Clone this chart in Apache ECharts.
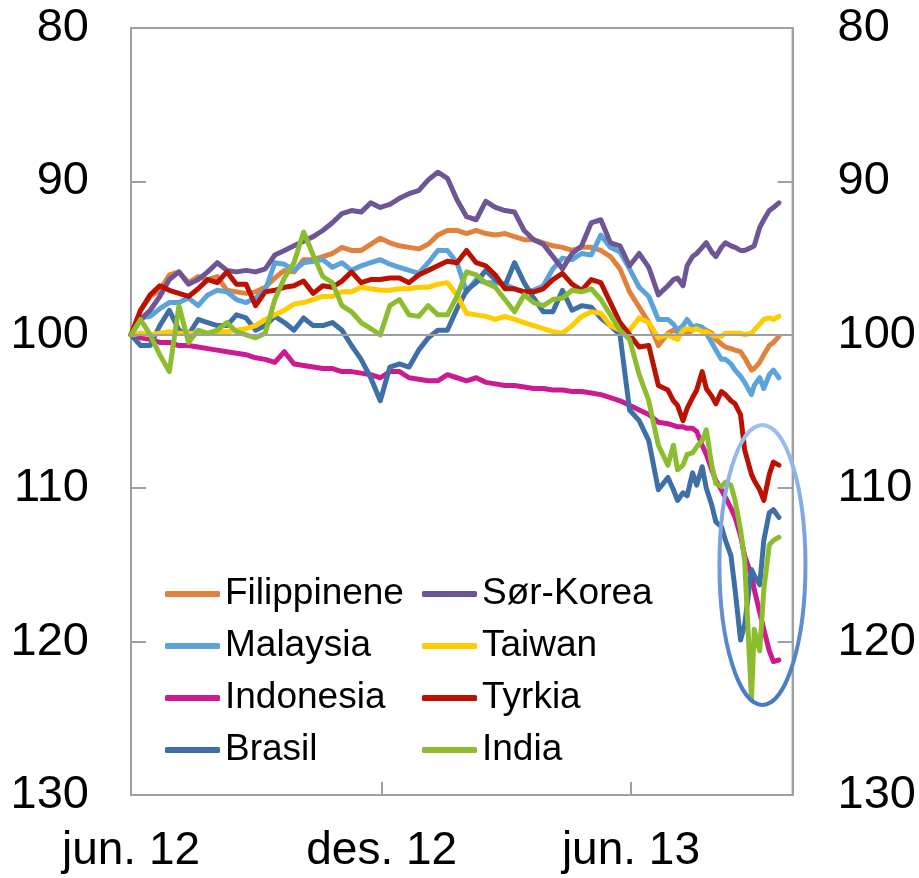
<!DOCTYPE html>
<html><head><meta charset="utf-8">
<script src="https://cdn.jsdelivr.net/npm/echarts@6/dist/echarts.min.js"></script>
<style>html,body{margin:0;padding:0;background:#fff}#c{width:919px;height:878px}</style>
</head><body><div id="c"></div>
<script>
const dates = [
 '2012-06-01','2012-06-08','2012-06-15','2012-06-22','2012-06-29','2012-07-06','2012-07-13','2012-07-20','2012-07-27','2012-08-03',
 '2012-08-10','2012-08-17','2012-08-24','2012-08-31','2012-09-07','2012-09-14','2012-09-21','2012-09-28','2012-10-05','2012-10-12',
 '2012-10-19','2012-10-26','2012-11-02','2012-11-09','2012-11-16','2012-11-23','2012-11-30','2012-12-07','2012-12-14','2012-12-21',
 '2012-12-28','2013-01-04','2013-01-11','2013-01-18','2013-01-25','2013-02-01','2013-02-08','2013-02-15','2013-02-22','2013-03-01',
 '2013-03-08','2013-03-15','2013-03-22','2013-03-29','2013-04-05','2013-04-12','2013-04-19','2013-04-26','2013-05-03','2013-05-10',
 '2013-05-17','2013-05-24','2013-05-31','2013-06-07','2013-06-14','2013-06-21','2013-06-28',
 '2013-07-02','2013-07-05','2013-07-09','2013-07-12','2013-07-16','2013-07-19','2013-07-23','2013-07-26','2013-07-30','2013-08-02',
 '2013-08-06','2013-08-09','2013-08-13','2013-08-16','2013-08-20','2013-08-23','2013-08-28','2013-08-30','2013-09-03','2013-09-06',
 '2013-09-10','2013-09-13','2013-09-17'
];
const filippinene = [100.0,98.4,97.5,97.1,96.1,95.9,96.6,96.2,96.4,96.2, 97.1,97.2,97.3,97.2,96.9,96.3,95.8,95.9,95.1,95.1,
 94.9,94.7,94.3,94.5,94.5,94.1,93.7,94.0,94.2,94.3, 94.4,94.1,93.5,93.2,93.2,93.4,93.2,93.4,93.5,93.4,
 93.6,93.8,93.8,94.0,94.2,94.3,94.5,94.3,94.3,94.5, 94.9,95.7,97.2,98.2,99.2,100.7,99.9,
 99.7,99.8,99.9,99.9,99.7,99.6,99.6,99.7,99.9,100.3, 100.6,100.8,100.9,101.0,101.1,101.5,102.3,102.2,101.8,101.3, 100.7,100.5,100.1];
const sorKorea = [100.0,99.0,98.4,97.5,96.4,95.9,96.7,96.4,95.9,95.3, 95.8,95.9,95.8,95.9,95.7,94.8,94.5,94.2,93.9,93.6,
 93.2,92.7,92.1,91.9,92.0,91.4,91.7,91.5,91.1,90.8, 90.6,89.9,89.4,89.8,91.2,92.3,92.5,91.3,91.7,91.9,
 92.0,93.2,93.8,94.1,94.9,95.7,94.7,94.2,92.7,92.5, 94.0,94.2,95.5,94.7,95.6,97.4,96.8,
 96.4,96.3,96.8,95.5,94.9,94.7,94.3,94.0,94.6,94.9, 94.3,94.0,94.2,94.3,94.5,94.5,94.3,94.2,93.0,92.5, 91.9,91.7,91.4];
const malaysia = [100.0,98.9,98.8,98.3,97.9,97.9,97.6,98.1,97.4,97.1, 97.2,97.7,97.9,97.6,97.1,95.3,95.4,95.8,95.3,95.2,
 95.1,95.6,95.3,95.8,95.5,95.3,95.1,95.4,95.6,95.8, 96.0,95.3,94.5,94.5,95.3,97.2,96.4,96.6,96.6,96.7,
 97.0,97.2,97.1,96.8,95.7,95.0,95.1,94.7,94.8,93.5, 94.3,94.6,95.7,96.9,97.5,99.0,99.0,
 99.3,99.7,99.4,99.0,99.5,99.4,99.5,99.9,100.5,101.0, 101.6,101.6,101.9,102.3,102.7,103.1,103.9,103.3,102.8,103.5, 102.6,102.3,102.8];
const taiwan = [100.0,99.9,100.0,99.9,99.8,99.9,99.9,99.9,99.9,99.8, 99.8,99.7,99.6,99.4,99.0,98.7,98.4,98.0,97.9,97.7,
 97.5,97.5,97.2,97.2,96.9,97.0,97.1,97.1,97.0,97.0, 96.9,96.9,96.7,96.6,97.4,98.6,98.7,98.8,99.0,98.8,
 99.0,99.2,99.4,99.6,99.8,99.9,99.4,98.8,98.5,98.6, 99.4,99.7,99.7,98.9,99.2,100.2,100.0,
 100.2,100.3,99.7,99.6,99.7,99.6,99.8,99.8,100.0,100.1, 100.1,99.9,99.9,99.9,99.9,100.0,99.9,99.7,99.3,99.0, 98.9,99.0,98.8];
const indonesia = [100.0,100.2,100.3,100.5,100.5,100.7,100.7,100.8,100.9,101.0, 101.1,101.2,101.3,101.5,101.6,101.8,101.1,101.9,102.0,102.1,
 102.2,102.2,102.4,102.4,102.5,102.6,102.8,102.4,102.4,102.8, 102.9,103.0,103.0,102.6,102.8,103.0,102.8,103.1,103.2,103.3,
 103.3,103.4,103.5,103.5,103.6,103.6,103.7,103.7,103.8,103.9, 104.1,104.3,104.6,104.9,105.2,105.7,105.8,
 105.9,106.0,106.0,106.1,106.1,106.3,107.2,107.8,108.8,109.5, 110.1,110.6,111.3,111.9,113.1,114.4,115.7,116.6,118.1,119.2, 120.6,121.3,121.2];
const tyrkia = [100.0,98.4,97.4,96.8,97.1,97.3,97.5,97.0,96.4,96.6, 95.9,96.7,96.7,98.1,97.2,97.1,96.9,96.8,96.5,97.3,
 96.8,96.9,96.5,95.9,96.6,96.4,96.4,96.3,96.3,96.6, 96.1,95.8,95.5,95.2,95.3,94.5,95.3,95.5,96.1,97.0,
 97.0,97.2,97.2,97.0,96.4,96.0,96.7,97.1,96.4,96.6, 97.9,99.2,100.0,100.8,100.7,103.3,103.6,
 104.3,104.6,105.6,104.8,104.1,103.6,102.4,103.5,104.0,104.5, 103.7,103.9,104.3,104.5,105.2,107.5,109.1,109.5,110.1,110.8, 109.1,108.3,108.5];
const brasil = [100.0,100.7,100.7,99.4,98.4,99.7,100.0,99.0,99.2,99.4, 99.4,98.7,98.9,99.7,99.4,98.8,99.2,99.7,98.9,99.4,
 99.4,99.2,99.7,100.7,101.6,102.8,104.3,102.1,101.9,102.1, 101.0,100.2,99.7,99.7,98.3,97.1,96.6,95.8,96.4,96.8,
 95.3,96.6,97.6,98.5,98.5,97.1,98.4,98.1,98.2,98.9, 99.4,100.0,104.9,105.6,106.9,110.1,109.3,
 110.1,110.8,110.3,110.5,109.0,109.8,108.6,110.0,111.1,112.2, 112.5,113.4,114.4,116.6,119.9,118.9,115.3,115.7,116.3,113.4, 111.6,111.4,111.9];
const india = [100.0,99.0,100.0,101.3,102.4,98.1,100.5,99.7,99.9,99.7, 99.2,99.8,100.0,100.2,99.9,97.7,96.3,95.3,93.3,94.8,
 96.2,96.6,98.1,98.5,99.2,99.6,100.0,98.1,97.7,98.7, 98.8,98.1,98.7,98.7,97.5,95.9,96.1,96.6,96.9,97.7,
 98.5,97.4,97.9,98.1,97.7,97.6,97.1,97.2,97.0,97.7, 98.7,99.7,100.3,102.6,104.3,107.2,108.5,
 107.2,108.8,108.5,107.8,107.7,107.3,106.9,106.2,108.5,109.7, 109.9,109.6,109.8,110.8,112.7,114.7,123.8,119.2,120.6,116.6, 113.7,113.4,113.2];

const xTickDates = ['2012-06-01','2012-12-01','2013-06-01'];
const xTickLabels = ['jun. 12','des. 12','jun. 13'];
const xMin = '2012-06-01', xMax = '2013-09-27';
const yMin = 80, yMax = 130, yStep = 10;

const FONT = "'Liberation Sans', Arial, sans-serif";
const GRAY = '#A0A0A0';
function toTs(s){const p=s.split('-');return new Date(+p[0],+p[1]-1,+p[2]).getTime();}
const xTicks = xTickDates.map(toTs);

function mk(name, arr, color){
  return {name, type:'line', data: dates.map((d,i)=>[toTs(d), arr[i]]), symbol:'none', showSymbol:false,
    lineStyle:{width:5, color, cap:'round', join:'round'}, itemStyle:{color}, emphasis:{disabled:true}};
}
const series = [
  mk('Filippinene', filippinene, '#E0823D'),
  mk('Malaysia', malaysia, '#5BA3DB'),
  mk('Sør-Korea', sorKorea, '#6E5596'),
  mk('Indonesia', indonesia, '#CC1A92'),
  mk('Brasil', brasil, '#3F6FA7'),
  mk('Taiwan', taiwan, '#FFCC00'),
  mk('Tyrkia', tyrkia, '#BB1100'),
  mk('India', india, '#8CBD2F')
];
series[0].markLine = {silent:true, symbol:'none', label:{show:false}, animation:false,
  lineStyle:{color:GRAY, width:2, type:'solid'}, data:[{yAxis:100}]};

const yAxisBase = (pos, margin) => ({type:'value', inverse:true, min:yMin, max:yMax, interval:yStep, position:pos,
  axisLine:{show:true, lineStyle:{color:GRAY, width:2}},
  axisTick:{show:true, inside:true, length:15, lineStyle:{color:GRAY, width:2}},
  axisLabel:{fontSize:47, margin, color:'#000', fontFamily:FONT},
  splitLine:{show:false}});

const legendBase = (data, left) => ({data, orient:'vertical', left, top:574, padding:0, itemWidth:55, itemHeight:6,
  itemGap:12, icon:'roundRect', selectedMode:false,
  textStyle:{fontSize:37, lineHeight:40, color:'#000', fontFamily:FONT}});

const chart = echarts.init(document.getElementById('c'), null, {renderer:'canvas'});
chart.setOption({
  animation:false,
  backgroundColor:'#fff',
  grid:{left:131, right:124, top:28, bottom:83, show:true, borderColor:GRAY, borderWidth:2, backgroundColor:'transparent'},
  xAxis:{type:'value', min:toTs(xMin), max:toTs(xMax),
    axisLine:{show:true, lineStyle:{color:GRAY, width:2}},
    axisTick:{show:true, inside:true, length:13, customValues:xTicks, lineStyle:{color:GRAY, width:2}},
    axisLabel:{customValues:xTicks, fontSize:46, margin:33, color:'#000', fontFamily:FONT, showMinLabel:true, showMaxLabel:true,
      formatter:(v)=>{let best=0,bd=Infinity;xTicks.forEach((t,i)=>{const d=Math.abs(t-v);if(d<bd){bd=d;best=i;}});return xTickLabels[best];}},
    splitLine:{show:false}},
  yAxis:[yAxisBase('left',42), yAxisBase('right',45)],
  legend:[legendBase(['Filippinene','Malaysia','Indonesia','Brasil'],165), legendBase(['Sør-Korea','Taiwan','Tyrkia','India'],422)],
  series
});
const ctr = chart.convertToPixel({gridIndex:0}, [toTs('2013-09-05'), 115]);
chart.setOption({graphic:[{type:'ellipse', z:100, silent:true,
  shape:{cx:ctr[0], cy:ctr[1], rx:43, ry:140},
  style:{fill:'none', lineWidth:4,
    stroke:{type:'linear', x:0, y:0, x2:0, y2:1, colorStops:[{offset:0,color:'#9EC1F0'},{offset:1,color:'#4677C2'}]}}}]});
</script></body></html>
